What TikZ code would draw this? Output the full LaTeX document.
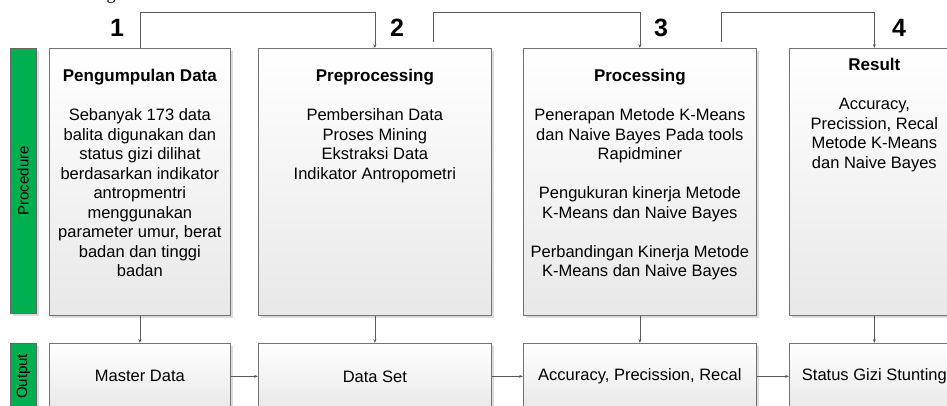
\documentclass[tikz,border=0pt]{standalone}
\usepackage{fontspec}
\setmainfont{Liberation Sans}
\newfontfamily\capserif{Liberation Serif}
\usetikzlibrary{shadows,arrows.meta}
\definecolor{barGreen}{HTML}{00B050}
\definecolor{lineGray}{HTML}{595959}
\newcommand\ttlfont{\fontsize{17}{19.5}\selectfont\bfseries}
\begin{document}
\begin{tikzpicture}[x=1pt,y=-1pt,
  box/.style={draw=black!55, line width=0.7pt, top color=white, bottom color=black!9,
    general shadow={fill=black!14, shadow xshift=3pt, shadow yshift=-3pt},
    inner sep=0pt, anchor=north west},
  bar/.style={draw=black!60, line width=0.7pt, fill=barGreen,
    general shadow={fill=black!14, shadow xshift=3pt, shadow yshift=-3pt},
    inner sep=0pt, anchor=north west, minimum width=26pt},
  txt/.style={font=\fontsize{16.5}{19.5}\selectfont, align=center, inner sep=0pt},
  num/.style={font=\fontsize{25}{25}\selectfont\bfseries, inner sep=0pt},
  side/.style={font=\fontsize{15}{15}\selectfont, rotate=90, inner sep=0pt},
  conn/.style={draw=lineGray, line width=0.7pt, -{Stealth[length=4pt,width=3pt]}},
]
\useasboundingbox (0,0) rectangle (947,405);
\clip (0,0) rectangle (947,405);

% caption fragment
\node[font=\capserif\fontsize{18}{18}\selectfont, anchor=base, inner sep=0pt] (frag) at (111,-1) {g};

% side bars
\node[bar, minimum height=265pt] (bp) at (10,48) {};
\node[bar, minimum height=66pt] (bo) at (10,343) {};
\node[side] (lp) at (bp.center) {Procedure};
\node[side] (lo) at (bo.center) {Output};

% procedure boxes
\node[box, minimum width=181pt, minimum height=267pt] (b1) at (49,48) {};
\node[box, minimum width=233pt, minimum height=267pt] (b2) at (258,48) {};
\node[box, minimum width=233pt, minimum height=267pt] (b3) at (523,48) {};
\node[box, minimum width=170pt, minimum height=267pt] (b4) at (789,48) {};

% output boxes
\node[box, minimum width=181pt, minimum height=66pt] (o1) at (49,343) {};
\node[box, minimum width=233pt, minimum height=66pt] (o2) at (258,343) {};
\node[box, minimum width=233pt, minimum height=66pt] (o3) at (523,343) {};
\node[box, minimum width=170pt, minimum height=66pt] (o4) at (789,343) {};

% text reference lines
\coordinate (ty) at (0,69);
\coordinate (tyr) at (0,58);

% box texts
\node[txt, anchor=north] (t1) at (b1.north |- ty) {{\ttlfont Pengumpulan Data}\\[19.5pt]
  Sebanyak 173 data\\ balita digunakan dan\\ status gizi dilihat\\ berdasarkan indikator\\
  antropmentri\\ menggunakan\\ parameter umur, berat\\ badan dan tinggi\\ badan};
\node[txt, anchor=north] (t2) at (b2.north |- ty) {{\ttlfont Preprocessing}\\[19.5pt]
  Pembersihan Data\\ Proses Mining\\ Ekstraksi Data\\ Indikator Antropometri};
\node[txt, anchor=north] (t3) at (b3.north |- ty) {{\ttlfont Processing}\\[19.5pt]
  Penerapan Metode K-Means\\ dan Naive Bayes Pada tools\\ Rapidminer\\[19.5pt]
  Pengukuran kinerja Metode\\ K-Means dan Naive Bayes\\[19.5pt]
  Perbandingan Kinerja Metode\\ K-Means dan Naive Bayes};
\node[txt, anchor=north] (t4) at (b4.north |- tyr) {{\ttlfont Result}\\[19.5pt]
  Accuracy,\\ Precission, Recal\\ Metode K-Means\\ dan Naive Bayes};

\node[txt] (u1) at (o1.center) {Master Data};
\node[txt] (u2) at (o2.center) {Data Set};
\node[txt] (u3) at (o3.center) {Accuracy, Precission, Recal};
\node[txt] (u4) at (o4.center) {Status Gizi Stunting};

% step numbers
\node[num] (n1) at (117,28) {1};
\node[num] (n2) at (397,28) {2};
\node[num] (n3) at (661,28) {3};
\node[num] (n4) at (899,28) {4};

% top connectors
\coordinate (top) at (0,12);
\coordinate (s2) at (433,42);
\coordinate (s3) at (721,42);
\draw[conn] (b1.north) |- (b2.north |- top) -- (b2.north);
\draw[conn] (s2) |- (b3.north |- top) -- (b3.north);
\draw[conn] (s3) |- (b4.north |- top) -- (b4.north);

% down connectors
\draw[conn] (b1.south) -- (o1.north);
\draw[conn] (b2.south) -- (o2.north);
\draw[conn] (b3.south) -- (o3.north);
\draw[conn] (b4.south) -- (o4.north);

% output chain
\draw[conn] (o1.east) -- (o2.west);
\draw[conn] (o2.east) -- (o3.west);
\draw[conn] (o3.east) -- (o4.west);
\end{tikzpicture}
\end{document}
